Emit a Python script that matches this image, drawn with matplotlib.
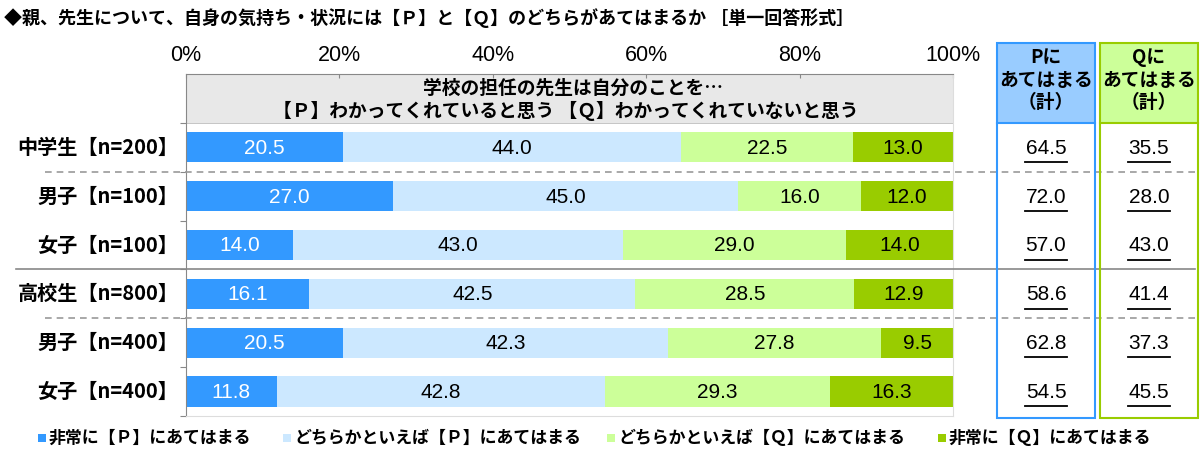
import matplotlib
matplotlib.use("Agg")
import matplotlib.pyplot as plt
import matplotlib.patches as mpatches
import matplotlib.transforms as mtransforms
import numpy as np

plt.rcParams['font.family'] = ['Noto Sans CJK JP', 'DejaVu Sans']

# data
categories = ['中学生【n=200】', '男子【n=100】', '女子【n=100】',
              '高校生【n=800】', '男子【n=400】', '女子【n=400】']
very_p = [20.5, 27.0, 14.0, 16.1, 20.5, 11.8]
rather_p = [44.0, 45.0, 43.0, 42.5, 42.3, 42.8]
rather_q = [22.5, 16.0, 29.0, 28.5, 27.8, 29.3]
very_q = [13.0, 12.0, 14.0, 12.9, 9.5, 16.3]
p_total = [64.5, 72.0, 57.0, 58.6, 62.8, 54.5]
q_total = [35.5, 28.0, 43.0, 41.4, 37.3, 45.5]
series_names = ['非常に【Ｐ】にあてはまる', 'どちらかといえば【Ｐ】にあてはまる',
                'どちらかといえば【Ｑ】にあてはまる', '非常に【Ｑ】にあてはまる']
colors = ['#3399FF', '#CCE8FF', '#CCFF99', '#99CC00']
text_colors = ['white', 'black', 'black', 'black']

W, H = 1200, 458
fig = plt.figure(figsize=(12, 4.58), dpi=100)

def fx(px):
    return px / W

def fy(py):
    return 1 - py / H

num_font = ['Liberation Sans', 'DejaVu Sans']
left, right, top, bottom = 186, 953, 74, 416
ax = fig.add_axes([fx(left), fy(bottom), fx(right - left), (bottom - top) / H])

y = np.arange(len(categories))
series = [very_p, rather_p, rather_q, very_q]
base = np.zeros(len(categories))
for vals, c, tc in zip(series, colors, text_colors):
    vals = np.array(vals)
    ax.barh(y, vals, left=base, height=0.62, color=c, edgecolor='none', zorder=2)
    for yi, (b, v) in enumerate(zip(base, vals)):
        ax.text(b + v / 2, yi + 0.02, f'{v:.1f}', ha='center', va='center',
                fontsize=15, color=tc, family=num_font, zorder=3)
    base = base + vals

ax.set_xlim(0, 100)
ax.set_ylim(5.5, -1.5)

# header band
ax.add_patch(mpatches.Rectangle((0, -1.5), 100, 1.0, facecolor='#E8E8E8',
                                edgecolor='none', zorder=1))
ax.plot([0, 100], [-0.5, -0.5], color='#BBBBBB', lw=0.6, zorder=1)
ax.text(50.5, -1.22, '学校の担任の先生は自分のことを…', ha='center', va='center',
        fontsize=13.5, fontweight='bold')
ax.text(49.5, -0.74, '【Ｐ】わかってくれていると思う 【Ｑ】わかってくれていないと思う',
        ha='center', va='center', fontsize=13.5, fontweight='bold')

# axes styling
ax.xaxis.tick_top()
ax.set_xticks(np.arange(0, 101, 20))
ax.set_xticklabels([f'{t}%' for t in range(0, 101, 20)], fontsize=15.5, family=num_font)
ax.tick_params(axis='x', direction='in', length=3, pad=6, color='#888888')
ax.set_yticks(np.arange(-0.5, 6, 1))
ax.set_yticklabels([])
ax.tick_params(axis='y', direction='out', length=4, color='#888888')
for s in ['left', 'top']:
    ax.spines[s].set_color('#888888')
for s in ['right', 'bottom']:
    ax.spines[s].set_color('#DDDDDD')

# row labels
tr = mtransforms.blended_transform_factory(ax.transAxes, ax.transData)
for yi, lab in enumerate(categories):
    ax.text(-0.01, yi, lab, transform=tr, ha='right', va='center',
            fontsize=14.5, fontweight='bold')

# separator lines
x_sol0 = (16 - left) / (right - left)
x_dash0 = (45 - left) / (right - left)
x_end = (1195 - left) / (right - left)
ax.plot([x_dash0, x_end], [0.5, 0.5], transform=tr, color='#999999', lw=1.2,
        ls=(0, (4, 3)), clip_on=False, zorder=4)
ax.plot([x_sol0, x_end], [2.5, 2.5], transform=tr, color='#888888', lw=1.2,
        clip_on=False, zorder=4)
ax.plot([x_dash0, x_end], [3.5, 3.5], transform=tr, color='#999999', lw=1.2,
        ls=(0, (4, 3)), clip_on=False, zorder=4)

# total boxes
boxes = [(997, 1095, 'Pに\nあてはまる\n（計）', '#99CCFF', '#3399FF', p_total),
         (1100, 1198, 'Qに\nあてはまる\n（計）', '#CCFF99', '#99CC00', q_total)]
trb = mtransforms.blended_transform_factory(fig.transFigure, ax.transData)
for x0, x1, head, fc, ec, vals in boxes:
    fig.patches.append(mpatches.Rectangle((fx(x0), fy(123)), fx(x1 - x0), (123 - 43) / H,
                                          transform=fig.transFigure, facecolor=fc,
                                          edgecolor='none', zorder=0))
    fig.patches.append(mpatches.Rectangle((fx(x0), fy(418)), fx(x1 - x0), (418 - 43) / H,
                                          transform=fig.transFigure, facecolor='none',
                                          edgecolor=ec, lw=1.5, zorder=5))
    fig.lines.append(plt.Line2D([fx(x0), fx(x1)], [fy(123), fy(123)],
                                transform=fig.transFigure, color=ec, lw=1.5))
    fig.text(fx((x0 + x1) / 2), fy(80), head, ha='center', va='center', fontsize=13.5,
             fontweight='bold', linespacing=1.25)
    cx = fx((x0 + x1) / 2)
    for yi, v in enumerate(vals):
        ax.text(cx, yi + 0.02, f'{v:.1f}', transform=trb, ha='center',
                va='center', fontsize=15, family=num_font, clip_on=False)
        ax.plot([cx - 0.0175, cx + 0.0175], [yi + 0.3, yi + 0.3],
                transform=trb, color='black', lw=1.3, clip_on=False)

# title
fig.text(fx(4), fy(18), '◆親、先生について、自身の気持ち・状況には【Ｐ】と【Ｑ】のどちらがあてはまるか ［単一回答形式］',
         ha='left', va='center', fontsize=13, fontweight='bold')

# legend
leg_x = [38, 283, 607, 938]
for lx, name, c in zip(leg_x, series_names, colors):
    fig.patches.append(mpatches.Rectangle((fx(lx), fy(442)), fx(8), 8 / H,
                                          transform=fig.transFigure, facecolor=c,
                                          edgecolor='none'))
    fig.text(fx(lx + 11), fy(438), name, ha='left', va='center', fontsize=12.2,
             fontweight='bold')

fig.savefig('out.png', dpi=100)
